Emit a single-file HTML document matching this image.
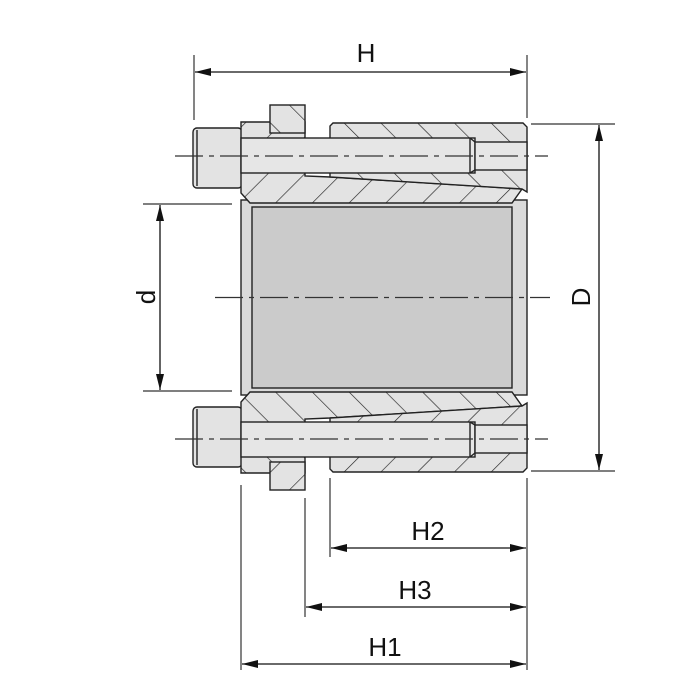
<!DOCTYPE html>
<html><head><meta charset="utf-8"><style>
html,body{margin:0;padding:0;background:#fff;}
svg{display:block;}
text{font-family:"Liberation Sans",Arial,sans-serif;fill:#111;}
</style></head><body>
<svg width="700" height="700" viewBox="0 0 700 700" xmlns="http://www.w3.org/2000/svg">
<defs>
<pattern id="hA" patternUnits="userSpaceOnUse" width="26" height="26" patternTransform="rotate(45)">
<rect width="26" height="26" fill="#e3e3e3"/><line x1="0" y1="0" x2="0" y2="26" stroke="#222" stroke-width="1.3"/>
</pattern>
<pattern id="hB" patternUnits="userSpaceOnUse" width="26" height="26" patternTransform="rotate(-45)">
<rect width="26" height="26" fill="#e3e3e3"/><line x1="0" y1="0" x2="0" y2="26" stroke="#222" stroke-width="1.3"/>
</pattern>
<marker id="ar" viewBox="0 0 10 10" refX="10" refY="5" markerWidth="16" markerHeight="8" markerUnits="userSpaceOnUse" orient="auto-start-reverse" preserveAspectRatio="none">
<path d="M0,0 L10,5 L0,10 z" fill="#111"/>
</marker>
<g id="half" stroke="#222" stroke-width="1.4">
<rect x="193" y="128" width="49" height="60" rx="4" fill="#e3e3e3"/>
<line x1="197" y1="130" x2="197" y2="186"/>
<polygon points="241,122 305,122 305,176 330,177 522,189 512,203 250,203 241,193" fill="url(#hA)"/>
<polygon points="333,123 523,123 527,127 527,192 522,189 330,177 330,126" fill="url(#hB)"/>
<rect x="241" y="138" width="234" height="35" fill="#e6e6e6"/>
<rect x="475" y="142" width="52" height="28" fill="#e6e6e6"/>
<line x1="470" y1="138" x2="475" y2="142" />
<line x1="470" y1="173" x2="475" y2="170" />
<line x1="470" y1="138" x2="470" y2="173"/>
<rect x="270" y="105" width="35" height="28" fill="url(#hB)"/>
</g>
</defs>

<rect x="241" y="200" width="286" height="195" fill="#dadada" stroke="#222" stroke-width="1.4"/>
<rect x="252" y="207" width="260" height="181" fill="#cbcbcb" stroke="#222" stroke-width="1.4"/>

<use href="#half"/>
<use href="#half" transform="translate(0,595) scale(1,-1)"/>

<g stroke="#333" stroke-width="1.2" stroke-dasharray="28,6,5,6" fill="none">
<line x1="215" y1="297.5" x2="550" y2="297.5"/>
<line x1="175" y1="156" x2="548" y2="156"/>
<line x1="175" y1="439" x2="548" y2="439"/>
</g>

<g stroke="#333" stroke-width="1.2">
<line x1="194" y1="55" x2="194" y2="120"/>
<line x1="527" y1="55" x2="527" y2="118"/>
<line x1="531" y1="124" x2="615" y2="124"/>
<line x1="531" y1="471" x2="615" y2="471"/>
<line x1="143" y1="204" x2="232" y2="204"/>
<line x1="143" y1="391" x2="232" y2="391"/>
<line x1="241" y1="485" x2="241" y2="670"/>
<line x1="305" y1="498" x2="305" y2="617"/>
<line x1="330" y1="478" x2="330" y2="557"/>
<line x1="527" y1="478" x2="527" y2="670"/>
</g>

<g stroke="#111" stroke-width="1.3" marker-start="url(#ar)" marker-end="url(#ar)">
<line x1="195" y1="72" x2="526" y2="72"/>
<line x1="599" y1="125" x2="599" y2="470"/>
<line x1="160" y1="205" x2="160" y2="390"/>
<line x1="331" y1="548" x2="526" y2="548"/>
<line x1="306" y1="607" x2="526" y2="607"/>
<line x1="242" y1="664" x2="526" y2="664"/>
</g>

<g font-size="26" text-anchor="middle">
<text x="366" y="62">H</text>
<text x="428" y="540">H2</text>
<text x="415" y="599">H3</text>
<text x="385" y="656">H1</text>
<text transform="translate(155,297) rotate(-90)">d</text>
<text transform="translate(590,297) rotate(-90)">D</text>
</g>
</svg>
</body></html>
